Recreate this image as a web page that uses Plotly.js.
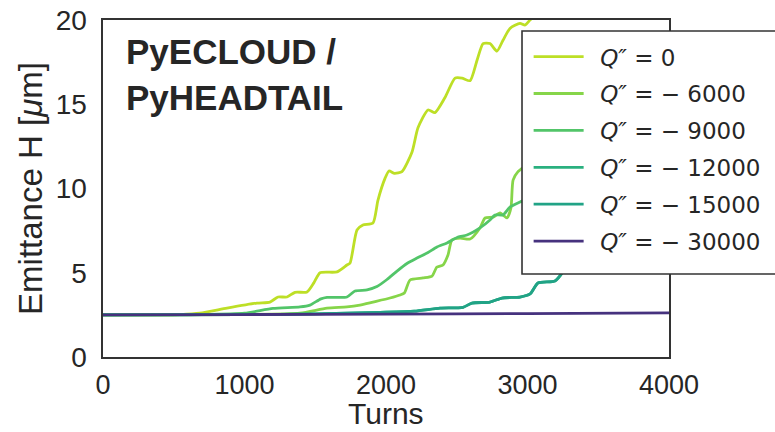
<!DOCTYPE html>
<html>
<head>
<meta charset="utf-8">
<script src="https://cdn.plot.ly/plotly-3.0.1.min.js"></script>
<style>html,body{margin:0;padding:0;background:#fff;}</style>
</head>
<body>
<div id="chart" style="width:775px;height:432px;"></div>
<script>
// ---- Data ----
const seriesNames = ['\u2002<i>Q″</i> = 0', '\u2002<i>Q″</i> = − 6000', '\u2002<i>Q″</i> = − 9000',
                     '\u2002<i>Q″</i> = − 12000', '\u2002<i>Q″</i> = − 15000', '\u2002<i>Q″</i> = − 30000'];
const seriesColors = ['#bddf26', '#86d549', '#52c569', '#2ab07f', '#21a386', '#46327e'];

const turnsQ0 = [0, 400, 545, 685, 876, 1088, 1180, 1237, 1300, 1357, 1442, 1490, 1534, 1654, 1724, 1746, 1795, 1837, 1908, 1943, 1993, 2021, 2060, 2113, 2184, 2226, 2297, 2346, 2417, 2488, 2537, 2594, 2643, 2686, 2735, 2784, 2827, 2876, 2947, 2982, 3018, 3100, 3300];
const emitQ0  = [2.5, 2.5, 2.52, 2.6, 2.9, 3.2, 3.26, 3.56, 3.56, 3.84, 3.86, 4.4, 5.0, 5.05, 5.46, 5.58, 7.54, 7.83, 7.95, 9.3, 10.6, 11.04, 10.9, 11.0, 12.17, 13.6, 14.66, 14.5, 15.4, 16.55, 16.55, 16.4, 17.6, 18.6, 18.6, 18.15, 18.8, 19.5, 19.8, 19.7, 20.0, 20.6, 22.0];

const turnsQ6000 = [0, 1000, 1392, 1583, 1724, 1816, 1908, 2028, 2099, 2130, 2170, 2261, 2325, 2360, 2403, 2438, 2466, 2523, 2594, 2664, 2700, 2756, 2806, 2855, 2883, 2898, 2933, 2980, 3200, 3500, 4000];
const emitQ6000  = [2.5, 2.52, 2.6, 2.9, 2.97, 3.08, 3.26, 3.5, 3.68, 3.8, 4.57, 4.69, 4.8, 5.34, 5.46, 6.05, 6.94, 7.06, 7.0, 7.66, 8.25, 8.3, 8.55, 8.25, 8.84, 10.5, 11.0, 11.3, 12.5, 14.0, 16.5];

const turnsQ9000 = [0, 700, 1000, 1201, 1392, 1463, 1540, 1583, 1724, 1781, 1866, 1936, 2007, 2078, 2148, 2219, 2297, 2360, 2431, 2509, 2572, 2664, 2735, 2770, 2827, 2876, 2947, 3000, 3300, 3600, 4000];
const emitQ9000  = [2.5, 2.52, 2.6, 2.88, 2.97, 3.08, 3.45, 3.54, 3.56, 3.92, 3.98, 4.18, 4.6, 5.1, 5.55, 5.87, 6.2, 6.53, 6.77, 7.12, 7.24, 7.66, 8.13, 8.43, 8.43, 8.9, 9.2, 9.4, 11.0, 13.0, 15.0];

const turnsQ12000 = [0, 1000, 1500, 1958, 2200, 2382, 2544, 2608, 2735, 2820, 2947, 3018, 3074, 3194, 3244, 3300, 3500, 3800, 4000];
const emitQ12000  = [2.5, 2.51, 2.56, 2.65, 2.72, 2.9, 2.95, 3.2, 3.26, 3.5, 3.56, 3.74, 4.39, 4.51, 4.98, 6.5, 9.0, 12.0, 14.0];

const turnsQ15000 = [0, 1000, 1500, 1958, 2200, 2382, 2544, 2608, 2735, 2820, 2947, 3018, 3074, 3194, 3244, 3350, 3600, 4000];
const emitQ15000  = [2.5, 2.51, 2.56, 2.65, 2.72, 2.9, 2.95, 3.2, 3.26, 3.5, 3.56, 3.74, 4.39, 4.51, 4.98, 6.0, 8.0, 11.0];

const turnsQ30000 = [0, 1000, 2000, 3000, 4000];
const emitQ30000  = [2.5, 2.52, 2.55, 2.58, 2.62];

const xTickVals = [0, 1000, 2000, 3000, 4000];
const yTickVals = [0, 5, 10, 15, 20];

// ---- Build traces ----
const xs = [turnsQ0, turnsQ6000, turnsQ9000, turnsQ12000, turnsQ15000, turnsQ30000];
const ys = [emitQ0, emitQ6000, emitQ9000, emitQ12000, emitQ15000, emitQ30000];
const traces = xs.map((x, i) => ({
  x: x, y: ys[i], type: 'scatter', mode: 'lines', name: seriesNames[i],
  legendgroup: 'g' + i,
  line: {color: seriesColors[i], width: 2.8, shape: 'spline', smoothing: 0.6}
}));

const textColor = '#262626';
const sans = 'Liberation Sans, Arial, sans-serif';
const layout = {
  width: 775, height: 432,
  margin: {l: 103, r: 106, t: 20, b: 75, pad: 0, autoexpand: false},
  paper_bgcolor: '#fff', plot_bgcolor: '#fff',
  showlegend: true,
  xaxis: {
    range: [0, 4000], tickvals: xTickVals, ticks: '', showgrid: false, zeroline: false,
    showline: true, mirror: true, linecolor: '#333', linewidth: 1.6,
    tickfont: {family: sans, size: 27, color: textColor},
    ticklabelstandoff: 3, automargin: false
  },
  yaxis: {
    range: [0, 20], tickvals: yTickVals, ticks: '', showgrid: false, zeroline: false,
    showline: true, mirror: true, linecolor: '#333', linewidth: 1.6,
    tickfont: {family: sans, size: 28, color: textColor},
    ticklabelstandoff: 9, automargin: false,
    title: {text: 'Emittance H [<i>μ</i>m]', font: {family: sans, size: 33, color: textColor}, standoff: 3}
  },
  legend: {
    x: 0.752, y: 0.955, xanchor: 'left', yanchor: 'top',
    bgcolor: 'rgba(0,0,0,0)', borderwidth: 0,
    font: {family: 'DejaVu Sans, sans-serif', size: 23, color: textColor},
    traceorder: 'grouped', tracegroupgap: 4, itemwidth: 50
  },
  shapes: [{
    type: 'rect', xref: 'paper', yref: 'paper', layer: 'above',
    x0: 0.7403, x1: 1.35, y0: 0.2463, y1: 0.9674,
    fillcolor: '#fff', line: {color: '#333', width: 1.6}
  }],
  annotations: [{
    xref: 'paper', yref: 'paper', x: 0.037, y: 0.969, xanchor: 'left', yanchor: 'top',
    text: '<b>PyECLOUD /<br>PyHEADTAIL</b>', showarrow: false, align: 'left',
    font: {family: sans, size: 35, color: textColor}
  }, {
    // x-axis title
    xref: 'paper', yref: 'paper', x: 0.5, y: -0.2226, xanchor: 'center', yanchor: 'bottom',
    text: 'Turns', showarrow: false,
    font: {family: sans, size: 30, color: textColor}
  }]
};

Plotly.newPlot('chart', traces, layout, {displayModeBar: false, staticPlot: true});
</script>
</body>
</html>
